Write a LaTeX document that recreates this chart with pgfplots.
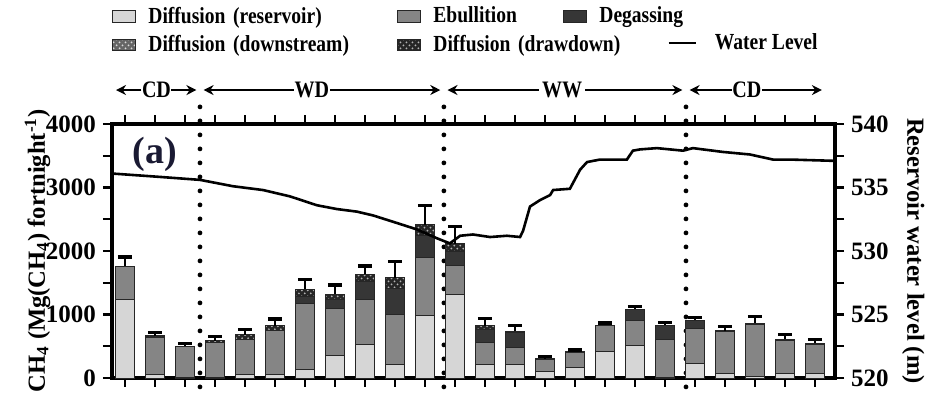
\documentclass[border=0pt]{standalone}
\usepackage{fontspec}
\setmainfont{Liberation Serif}
\newfontfamily\condfont{Liberation Serif}[FakeStretch=0.85]
\usepackage{pgfplots}
\pgfplotsset{compat=1.18}
\usepackage{pgfplotstable}
\usetikzlibrary{patterns,arrows.meta}

\definecolor{resv}{HTML}{D6D6D6}
\definecolor{ebul}{HTML}{858585}
\definecolor{degas}{HTML}{363636}
\definecolor{alab}{HTML}{1A1A33}

\pgfplotstableread{
x L E G D err
0 1240 520 0 0 145
1 50 595 0 20 55
2 15 475 0 5 50
3 10 545 0 35 60
4 50 555 0 75 80
5 50 700 0 70 110
6 130 1040 120 110 150
7 350 745 135 90 145
8 525 715 280 110 135
9 210 790 405 170 255
10 990 900 360 165 305
11 1315 450 220 130 265
12 205 350 210 55 115
13 215 263 236 26 90
14 95 200 0 5 36
15 170 234 0 6 30
16 425 400 0 5 36
17 510 392 170 5 55
18 10 600 220 3 40
19 231 556 116 5 42
20 73 657 0 15 63
21 31 804 0 26 105
22 73 515 0 21 79
23 73 457 0 16 63
}\fluxdata

\pgfplotstableread{
x lev
-0.43 536.1
1.07 535.85
2.5 535.6
3.6 535.1
4.6 534.8
5.5 534.3
6.4 533.6
7.07 533.3
7.73 533.1
8.27 532.8
9.07 532.2
9.73 531.7
10.4 531.0
10.83 530.6
11.17 531.2
11.6 531.3
12.17 531.1
12.73 531.2
13.17 531.1
13.27 531.6
13.5 533.5
13.83 534.0
14.17 534.4
14.27 534.8
14.83 534.9
15.17 536.4
15.4 537.0
15.83 537.2
16.73 537.2
16.93 537.9
17.17 538.0
17.73 538.1
18.6 537.9
18.93 538.1
19.93 537.8
20.83 537.6
21.6 537.2
22.17 537.2
23.62 537.1
}\leveldata

\tikzset{
  perarr/.style={line width=1.1bp, -{Stealth[length=5bp,width=5bp]}},
  perlab/.style={inner sep=0pt, font=\condfont\bfseries\fontsize{11.8bp}{13bp}\selectfont},
}

\begin{document}
\begin{tikzpicture}
\pgfplotsset{
  common/.style={
    scale only axis, width=361.5bp, height=127bp,
    xmin=-0.433, xmax=23.667,
    at={(0,0)}, anchor=south west,
    axis line style={line width=1.7bp},
    tick style={line width=1.2bp, black},
    major tick length=4.5bp, minor tick length=4.5bp,
    tick align=outside,
    ticklabel style={font=\fontsize{12.5bp}{14bp}\selectfont\bfseries},
    /pgf/number format/assume math mode=true,
    /pgf/number format/1000 sep={},
    label style={font=\fontsize{12.3bp}{15bp}\selectfont\bfseries},
  },
}
\begin{axis}[common, name=ax,
  ybar stacked, bar width=0.63,
  ymin=0, ymax=4000,
  ytick={0,1000,2000,3000,4000},
  minor ytick={500,1500,2500,3500},
  ytick pos=left,
  xtick={0,...,23}, xticklabels={}, xtick pos=both,
  clip=false,
  ylabel={CH\textsubscript{4} (Mg(CH\textsubscript{4}) fortnight\textsuperscript{-1})},
  ylabel style={yshift=-9bp},
  every axis plot/.append style={draw=black!85, line width=0.5bp},
  legend columns=3,
  legend image code/.code={\draw[#1] (0bp,-2.8bp) rectangle (11.5bp,2.8bp);},
  legend style={draw=none, fill=none, inner sep=0pt,
    at={(axis description cs:0,1.368)}, anchor=west,
    font=\condfont\bfseries\fontsize{11.5bp}{13bp}\selectfont,
    nodes={inner sep=0pt},
    row sep=4.5bp,
    /tikz/every odd column/.style={column sep=6bp},
    /tikz/column 2/.style={nodes={text width=124.5bp}},
    /tikz/column 4/.style={nodes={text width=65bp}},
  },
]
\addplot[fill=resv] table[x=x, y=L] {\fluxdata};
\addlegendentry{Diffusion (reservoir)}
\addplot[fill=ebul] table[x=x, y=E] {\fluxdata};
\addlegendentry{Ebullition}
\addplot[fill=degas] table[x=x, y=G] {\fluxdata};
\addlegendentry{Degassing}
\addlegendimage{fill=black!60, draw=black!85, line width=0.5bp, postaction={pattern=crosshatch dots, pattern color=white!85!black}}
\addlegendentry{Diffusion (downstream)}
\addplot[fill=black!85, postaction={pattern=crosshatch dots, pattern color=gray!60},
  error bars/.cd, y dir=plus, y explicit,
  error bar style={line width=1.3bp, black, solid},
  error mark options={rotate=90, mark size=3.6bp, line width=1.6bp, black}]
  table[x=x, y=D, y error=err] {\fluxdata};
\addlegendentry{\makebox[0pt][l]{Diffusion (drawdown)}}

% period separators
\draw[line width=2.4bp, dash pattern=on 0bp off 7bp, line cap=round]
  (axis cs:2.5,-140) -- (axis cs:2.5,4470);
\draw[line width=2.4bp, dash pattern=on 0bp off 7bp, line cap=round]
  (axis cs:10.63,-140) -- (axis cs:10.63,4470);
\draw[line width=2.4bp, dash pattern=on 0bp off 7bp, line cap=round]
  (axis cs:18.7,-140) -- (axis cs:18.7,4470);
% period arrows
\node[perlab] at (axis cs:1.05,4535) {CD};
\draw[perarr] (axis cs:0.55,4535) -- (axis cs:-0.3,4535);
\draw[perarr] (axis cs:1.55,4535) -- (axis cs:2.38,4535);
\node[perlab] at (axis cs:6.23,4535) {WD};
\draw[perarr] (axis cs:5.63,4535) -- (axis cs:2.62,4535);
\draw[perarr] (axis cs:6.83,4535) -- (axis cs:10.51,4535);
\node[perlab] at (axis cs:14.57,4535) {WW};
\draw[perarr] (axis cs:13.8,4535) -- (axis cs:10.75,4535);
\draw[perarr] (axis cs:15.34,4535) -- (axis cs:18.58,4535);
\node[perlab] at (axis cs:20.73,4535) {CD};
\draw[perarr] (axis cs:20.23,4535) -- (axis cs:18.82,4535);
\draw[perarr] (axis cs:21.23,4535) -- (axis cs:23.23,4535);

\node[font=\bfseries\fontsize{19bp}{22bp}\selectfont, text=alab] at (axis cs:1.0,3520) {(a)};
\end{axis}

\begin{axis}[common,
  ymin=520, ymax=540,
  ytick={520,525,530,535,540},
  minor ytick={522.5,527.5,532.5,537.5},
  axis y line*=right, axis x line=none,
  ylabel={Reservoir water level (m)},
  ylabel style={rotate=180},
  legend image code/.code={\draw[#1] (0bp,0bp) -- (13.5bp,0bp);},
  legend style={draw=none, fill=none, inner sep=0pt,
    at={(axis description cs:0.7676,1.319)}, anchor=west,
    font=\condfont\bfseries\fontsize{11.5bp}{13bp}\selectfont,
    nodes={inner sep=0pt},
    /tikz/every odd column/.style={column sep=9bp},
  },
]
\addplot[black, line width=1.3bp] table[x=x, y=lev] {\leveldata};
\addlegendentry{Water Level}
\end{axis}

\pgfresetboundingbox
\path[use as bounding box] (ax.south west) ++(-56bp,-8.5bp) rectangle ++(473bp,197.5bp);
\end{tikzpicture}
\end{document}
